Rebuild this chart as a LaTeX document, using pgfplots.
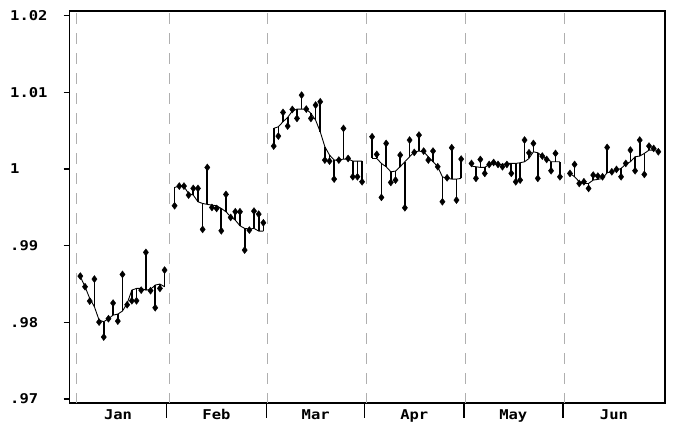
\documentclass[border=0pt]{standalone}
\usepackage{fontspec}
\usepackage{pgfplots}
\usepackage{pgfplotstable}
\pgfplotsset{compat=1.18}
\newfontfamily\pix{DejaVu Sans Mono}[FakeStretch=1.15]
\definecolor{dashgray}{RGB}{175,175,175}

\pgfplotstableread{
x y a
2.30 .98603 .98594
3.29 .98464 .98464
4.28 .98277 .98312
5.27 .98564 .98203
6.26 .98003 .98029
7.25 .97808 .98008
8.24 .98047 .98047
9.23 .98251 .98094
10.22 .98016 .98107
11.21 .98625 .98147
12.20 .98229 .98247
13.19 .98281 .98420
14.18 .98281 .98442
15.17 .98420 .98442
16.16 .98912 .98420
17.15 .98412 .98429
18.14 .98190 .98486
19.13 .98442 .98499
20.12 .98681 .98464
}\janT
\pgfplotstableread{
x y a
22.24 .99520 .99759
23.23 .99777 .99777
24.22 .99777 .99768
25.20 .99659 .99681
26.19 .99746 .99659
27.18 .99746 .99572
28.17 .99212 .99550
29.16 1.00020 .99538
30.14 .99498 .99529
31.13 .99485 .99520
32.12 .99194 .99485
33.11 .99668 .99442
34.10 .99368 .99377
35.08 .99442 .99333
36.07 .99442 .99259
37.06 .98942 .99225
38.05 .99203 .99216
39.04 .99450 .99225
40.03 .99411 .99190
41.02 .99298 .99190
}\febT
\pgfplotstableread{
x y a
43.21 1.00298 1.00529
44.19 1.00429 1.00550
45.18 1.00737 1.00616
46.16 1.00559 1.00672
47.15 1.00776 1.00755
48.13 1.00659 1.00781
49.11 1.00963 1.00781
50.10 1.00781 1.00781
51.08 1.00659 1.00724
52.07 1.00833 1.00637
53.05 1.00876 1.00485
54.03 1.00116 1.00290
55.02 1.00103 1.00181
56.00 0.99868 1.00116
56.99 1.00116 1.00116
57.97 1.00529 1.00129
58.95 1.00137 1.00129
59.94 0.99898 1.00103
60.92 0.99898 1.00103
61.91 0.99833 1.00103
}\marT
\pgfplotstableread{
x y a
64.02 1.00420 1.00137
65.01 1.00190 1.00137
66.00 0.99629 1.00072
67.00 1.00333 1.00029
67.99 0.99824 0.99963
68.98 0.99855 0.99972
69.97 1.00181 1.00029
70.96 0.99494 1.00094
71.96 1.00377 1.00159
72.95 1.00216 1.00224
73.94 1.00442 1.00233
74.93 1.00233 1.00224
75.92 1.00116 1.00159
76.92 1.00233 1.00094
77.91 1.00029 1.00029
78.90 0.99572 0.99898
79.89 0.99885 0.99877
80.88 1.00277 0.99868
81.88 0.99594 0.99868
82.87 1.00129 0.99877
}\aprT
\pgfplotstableread{
x y a
85.06 1.00072 1.00037
86.00 0.99877 1.00029
86.93 1.00124 1.00020
87.87 0.99942 1.00020
88.80 1.00059 1.00059
89.74 1.00085 1.00072
90.67 1.00059 1.00059
91.61 1.00029 1.00059
92.54 1.00059 1.00072
93.48 0.99942 1.00072
94.42 0.99833 1.00072
95.35 0.99855 1.00081
96.29 1.00377 1.00094
97.22 1.00211 1.00137
98.16 1.00333 1.00224
99.09 0.99877 1.00211
100.03 1.00168 1.00168
100.96 1.00124 1.00137
101.90 0.99977 1.00094
102.83 1.00203 1.00094
103.77 0.99898 1.00094
}\mayT
\pgfplotstableread{
x y a
105.89 0.99942 0.99942
106.87 1.00059 0.99898
107.86 0.99811 0.99833
108.84 0.99833 0.99811
109.83 0.99746 0.99811
110.81 0.99920 0.99855
111.79 0.99907 0.99864
112.78 0.99898 0.99877
113.76 1.00281 0.99951
114.75 0.99963 0.99963
115.73 0.99994 0.99985
116.71 0.99898 1.00007
117.70 1.00072 1.00063
118.68 1.00246 1.00094
119.67 0.99977 1.00159
120.65 1.00377 1.00168
121.63 0.99929 1.00203
122.62 1.00298 1.00246
123.60 1.00268 1.00246
124.59 1.00224 1.00246
}\junT

\newcommand\monthplot[1]{%
  \addplot[black, line width=0.9bp, no marks] table[x=x,y=a]{#1};
  \addplot[black, only marks, mark=diamond*, mark size=3.5bp,
    error bars/.cd, y dir=both, y explicit, error mark=none,
    error bar style={line width=1.7bp, black}]
    table[x=x,y=y,
      y error plus expr={max(\thisrow{a}-\thisrow{y},0)},
      y error minus expr={max(\thisrow{y}-\thisrow{a},0)}]{#1};
}

\begin{document}
\begin{tikzpicture}
\useasboundingbox (-69.5bp,-26bp) rectangle (608.5bp,403bp);
\begin{axis}[
  scale only axis,
  width=595.5bp, height=392bp,
  xmin=0, xmax=126,
  ymin=0.96948, ymax=1.0206,
  axis line style={line width=1.4bp},
  tick align=outside,
  major tick length=6bp,
  minor tick length=15bp,
  tick style={black, line width=1.3bp},
  ytick={0.97,0.98,0.99,1,1.01,1.02},
  yticklabels={.97,.98,.99,1,1.01,1.02},
  ytick pos=left,
  xtick pos=bottom,
  yticklabel style={anchor=west, inner sep=0pt, xshift=-53.5bp},
  xtick={10.27,31.1,52.1,72.96,93.9,115.2},
  xticklabels={Jan,Feb,Mar,Apr,May,Jun},
  major x tick style={draw=none},
  minor xtick={20.54,41.72,62.47,83.44,104.4},
  minor x tick style={draw=black, line width=1.3bp},
  xticklabel style={anchor=north, inner sep=0pt},
  tick label style={font=\pix\bfseries\fontsize{13.5bp}{14bp}\selectfont},
  clip=false,
]
\pgfplotsinvokeforeach{1.48,21.18,41.93,62.9,83.86,104.83}{
  \addplot[dashgray, line width=1bp, dash pattern=on 11bp off 9bp, forget plot]
    coordinates {(#1,1.0203) (#1,0.96948)};
}
\monthplot{\janT}
\monthplot{\febT}
\monthplot{\marT}
\monthplot{\aprT}
\monthplot{\mayT}
\monthplot{\junT}
\end{axis}
\end{tikzpicture}
\end{document}
